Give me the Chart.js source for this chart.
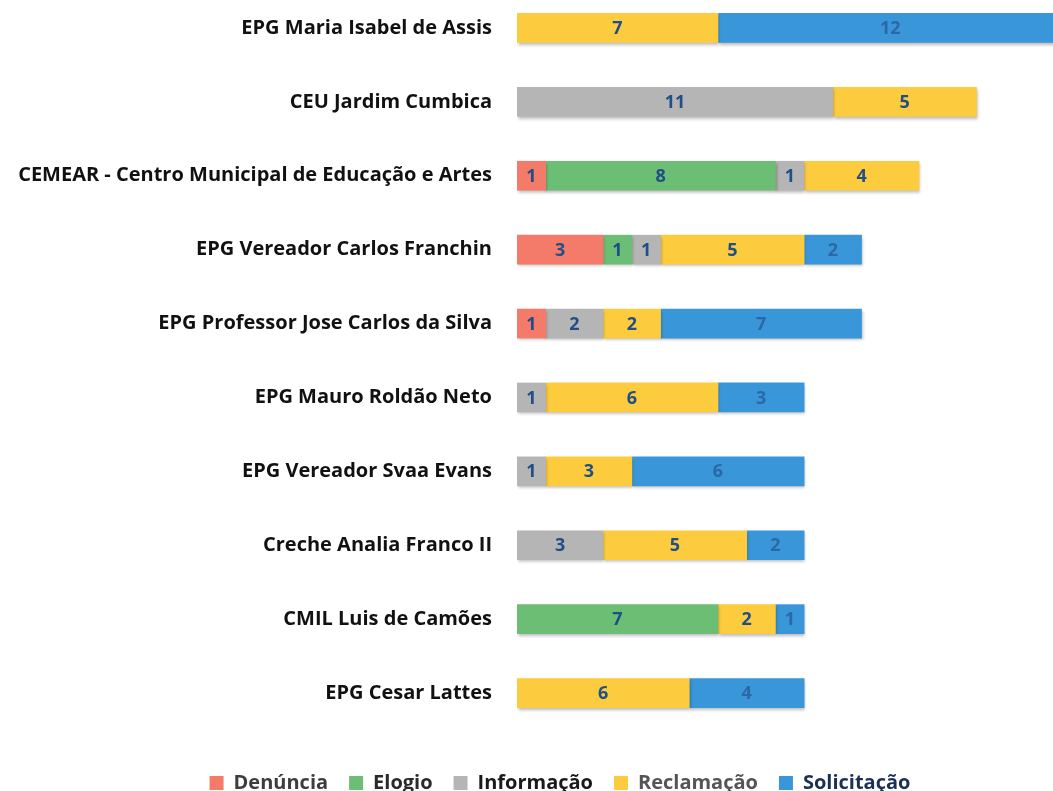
<!DOCTYPE html>
<html>
<head>
<meta charset="utf-8">
<script src="https://cdn.jsdelivr.net/npm/chart.js@4.4.1/dist/chart.umd.min.js"></script>
<style>
  html, body { margin: 0; padding: 0; background: #ffffff; overflow: hidden; width: 1053px; height: 791px; position: relative; }
  #wrap { position: absolute; left: 0; top: -46.5px; width: 1120px; height: 849px; }
</style>
</head>
<body>
<div id="wrap"><canvas id="c"></canvas></div>
<script>
const categories = [
  "EPG Maria Isabel de Assis",
  "CEU Jardim Cumbica",
  "CEMEAR - Centro Municipal de Educação e Artes",
  "EPG Vereador Carlos Franchin",
  "EPG Professor Jose Carlos da Silva",
  "EPG Mauro Roldão Neto",
  "EPG Vereador Svaa Evans",
  "Creche Analia Franco II",
  "CMIL Luis de Camões",
  "EPG Cesar Lattes"
];
const denuncia    = [null, null, 1, 3, 1, null, null, null, null, null];
const elogio      = [null, null, 8, 1, null, null, null, null, 7, null];
const informacao  = [null, 11, 1, 1, 2, 1, 1, 3, null, null];
const reclamacao  = [7, 5, 4, 5, 2, 6, 3, 5, 2, 6];
const solicitacao = [12, null, null, 2, 7, 3, 6, 2, 1, 4];
const seriesNames = ["Denúncia", "Elogio", "Informação", "Reclamação", "Solicitação"];

const colors = ["#f47a69", "#6dbe75", "#b5b5b5", "#fdcb3e", "#3997d9"];
const labelColors = ["#1f4f86", "#1f4f86", "#1f4f86", "#1f4f86", "#2b68a6"];
const legendTextColors = ["#3d3d3d", "#2a2a2a", "#1a1a1a", "#555555", "#1c2f55"];
const allSeries = [denuncia, elogio, informacao, reclamacao, solicitacao];

const FONT = "'Open Sans', Lato, sans-serif";

const valueLabels = {
  id: 'valueLabels',
  afterDatasetsDraw(chart) {
    const ctx = chart.ctx;
    ctx.save();
    ctx.font = "bold 18px " + FONT;
    ctx.textAlign = 'center';
    ctx.textBaseline = 'middle';
    chart.data.datasets.forEach((ds, di) => {
      const meta = chart.getDatasetMeta(di);
      meta.data.forEach((el, i) => {
        const v = ds.data[i];
        if (v === null || v === undefined) return;
        const p = el.getProps(['x', 'y', 'base'], true);
        const cx = (p.x + p.base) / 2;
        ctx.fillStyle = labelColors[di];
        ctx.fillText(String(v), cx, p.y + 1);
      });
    });
    ctx.restore();
  }
};

const shadow = {
  id: 'shadow',
  beforeDatasetsDraw(chart) {
    const ctx = chart.ctx;
    ctx.save();
    ctx.shadowColor = 'rgba(0,0,0,0.28)';
    ctx.shadowBlur = 3;
    ctx.shadowOffsetX = 1;
    ctx.shadowOffsetY = 2;
  },
  afterDatasetsDraw(chart) {
    chart.ctx.restore();
  }
};

new Chart(document.getElementById('c'), {
  type: 'bar',
  data: {
    labels: categories,
    datasets: allSeries.map((d, i) => ({
      label: seriesNames[i],
      data: d,
      backgroundColor: colors[i],
      borderWidth: 0,
      barThickness: 29
    }))
  },
  options: {
    indexAxis: 'y',
    responsive: true,
    maintainAspectRatio: false,
    animation: false,
    layout: { padding: { left: 0, right: 0, top: 0, bottom: 0 } },
    scales: {
      x: {
        stacked: true,
        min: 0,
        max: 21,
        grid: { display: false, drawTicks: false },
        border: { display: false },
        ticks: { display: false },
        afterFit(scale) { scale.height = 22; }
      },
      y: {
        stacked: true,
        grid: { display: false, drawTicks: false },
        border: { display: false },
        ticks: {
          padding: 25,
          color: '#111111',
          font: { family: FONT, size: 20, weight: 'bold' }
        },
        afterFit(scale) { scale.width = 517; }
      }
    },
    plugins: {
      legend: {
        position: 'bottom',
        labels: {
          boxWidth: 14,
          boxHeight: 14,
          padding: 21,
          font: { family: FONT, size: 20, weight: 'bold' },
          generateLabels(chart) {
            return chart.data.datasets.map((ds, i) => ({
              text: ds.label,
              fillStyle: colors[i],
              strokeStyle: colors[i],
              lineWidth: 0,
              fontColor: legendTextColors[i],
              hidden: false,
              datasetIndex: i
            }));
          }
        }
      },
      tooltip: { enabled: false }
    }
  },
  plugins: [shadow, valueLabels]
});
</script>
</body>
</html>
